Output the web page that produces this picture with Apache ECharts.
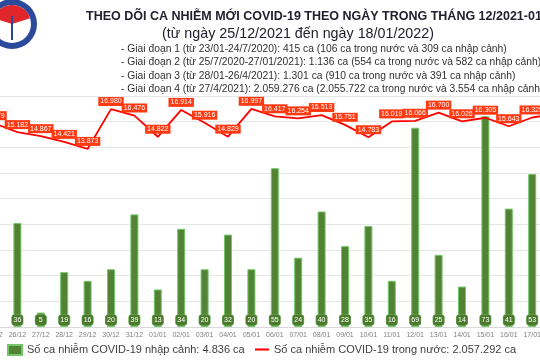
<!DOCTYPE html>
<html>
<head>
<meta charset="utf-8">
<script src="https://cdn.jsdelivr.net/npm/echarts@6/dist/echarts.min.js"></script>
<style>html,body{margin:0;padding:0;background:#fff;overflow:hidden;width:540px;height:360px}#c{position:absolute;left:-18px;top:0;width:587px;height:360px}</style>
</head>
<body>
<div id="c"></div>
<script>
const categories = ['25/12','26/12','27/12','28/12','29/12','30/12','31/12','01/01','02/01','03/01','04/01','05/01','06/01','07/01','08/01','09/01','10/01','11/01','12/01','13/01','14/01','15/01','16/01','17/01','18/01'];
const importedCases = [35,36,5,19,16,20,39,13,34,20,32,20,55,24,40,28,35,16,69,25,14,73,41,53,52];
const domesticCases = [15879,15182,14867,14421,13873,16980,16476,14822,16914,15916,14829,16997,16417,16254,16513,15751,14783,16019,16066,16700,16026,16305,15643,16325,16600];
const titleText = 'THEO DÕI CA NHIỄM MỚI COVID-19 THEO NGÀY TRONG THÁNG 12/2021-01/2022';
const subtitleText = '(từ ngày 25/12/2021 đến ngày 18/01/2022)';
const infoLines = [
  '- Giai đoạn 1 (từ 23/01-24/7/2020): 415 ca (106 ca trong nước và 309 ca nhập cảnh)',
  '- Giai đoạn 2 (từ 25/7/2020-27/01/2021): 1.136 ca (554 ca trong nước và 582 ca nhập cảnh)',
  '- Giai đoạn 3 (từ 28/01-26/4/2021): 1.301 ca (910 ca trong nước và 391 ca nhập cảnh)',
  '- Giai đoạn 4 (từ 27/4/2021): 2.059.276 ca (2.055.722 ca trong nước và 3.554 ca nhập cảnh)'
];
const barName = 'Số ca nhiễm COVID-19 nhập cảnh: 4.836 ca';
const lineName = 'Số ca nhiễm COVID-19 trong nước: 2.057.292 ca';

const fmt = v => String(v).replace(/\B(?=(\d{3})+(?!\d))/g, '.');
const FONT = 'Liberation Sans';
const OX = 18; // div offset so the plot can run past the window edges like the cropped original

const chart = echarts.init(document.getElementById('c'), null, {renderer: 'canvas'});
const graphics = [
  {type:'circle', shape:{cx:OX+12, cy:24, r:25}, style:{fill:'#2c4a9c'}},
  {type:'circle', shape:{cx:OX+12, cy:24, r:19}, style:{fill:'#ffffff'}},
  {type:'sector', shape:{cx:OX+12, cy:24, r:19, r0:0, startAngle:Math.PI*1.1, endAngle:Math.PI*1.9}, style:{fill:'#e0262b'}},
  {type:'rect', shape:{x:OX+11, y:16, width:2, height:24}, style:{fill:'#2c4a9c'}},
  {type:'text', style:{text:titleText, x:OX+86, y:17, verticalAlign:'middle', font:'bold 12.5px "Liberation Sans"', fill:'#202030'}},
  {type:'text', style:{text:subtitleText, x:OX+298, y:34, align:'center', verticalAlign:'middle', font:'14.3px "Liberation Sans"', fill:'#202030'}}
];
infoLines.forEach((t,i)=>{
  graphics.push({type:'text', style:{text:t, x:OX+121, y:49+i*13.5, verticalAlign:'middle', font:'10.3px "Liberation Sans"', fill:'#303030'}});
});

chart.setOption({
  animation:false,
  backgroundColor:'#ffffff',
  textStyle:{fontFamily:FONT},
  graphic: graphics,
  grid:{left:0.3, right:1.7, top:96, bottom:33},
  legend:[
    {data:[{name:barName, icon:'rect'}], left:OX+7, top:344, itemWidth:14, itemHeight:10, padding:0, textStyle:{fontSize:11, color:'#404040', fontFamily:FONT}},
    {data:[{name:lineName, icon:'path://M0,0L20,0L20,3L0,3Z'}], left:OX+255, top:344, itemWidth:14, itemHeight:10, padding:0, textStyle:{fontSize:11, color:'#404040', fontFamily:FONT}}
  ],
  xAxis:{type:'category', data:categories, axisTick:{show:false}, axisLine:{lineStyle:{color:'#d9d9d9'}},
    axisLabel:{interval:0, fontSize:7, color:'#7f7f7f', margin:5}},
  yAxis:[
    {type:'value', min:0, max:80, interval:10, show:false, splitLine:{show:false}},
    {type:'value', min:0, max:18000, interval:2000, axisLabel:{show:false}, axisLine:{show:false}, axisTick:{show:false},
      splitLine:{lineStyle:{color:'#e6e6e6', width:1}}}
  ],
  series:[
    {name:barName, type:'bar', yAxisIndex:0, data:importedCases, barWidth:8,
      itemStyle:{color:'#548235', borderColor:'#72c66a', borderWidth:1},
      label:{show:true, position:'insideBottom', distance:2, fontSize:7, color:'#ffffff', backgroundColor:'#4b7a2c',
        borderColor:'#6cae5a', borderWidth:0.5, borderRadius:2, padding:[2,1,1,1], width:9, align:'center'}},
    {name:lineName, type:'line', yAxisIndex:1, data:domesticCases, symbol:'circle', symbolSize:0.1, showSymbol:true,
      lineStyle:{color:'#ff0000', width:1.8}, itemStyle:{color:'#ff0000'}, z:5,
      label:{show:true, position:'top', distance:3, fontSize:7, color:'#ffffff', backgroundColor:'#ff3a12', padding:[1,2,1,2],
        formatter:p=>fmt(p.value)}}
  ]
});
</script>
</body>
</html>
